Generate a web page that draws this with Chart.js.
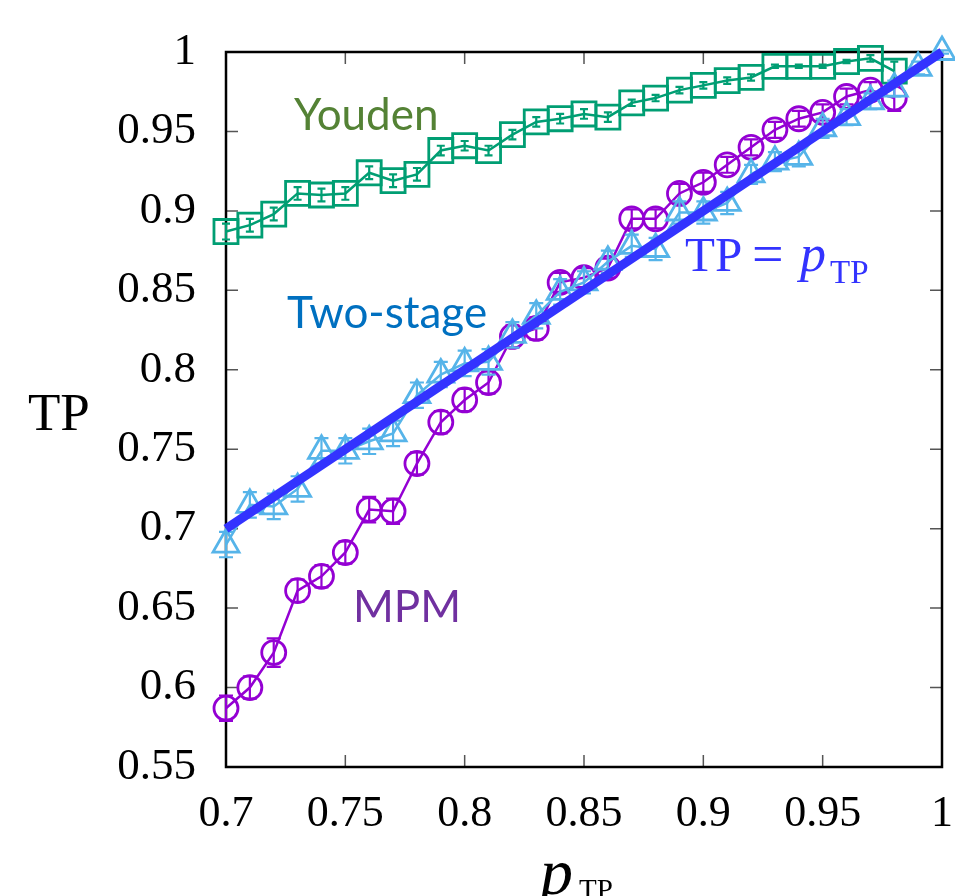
<!DOCTYPE html>
<html>
<head>
<meta charset="utf-8">
<script src="https://cdn.jsdelivr.net/npm/chart.js@4"></script>
<style>
    html, body { margin: 0; padding: 0; background: #fff; }
</style>
</head>
<body>
<canvas id="tpChart" width="955" height="896"></canvas>
<script>
// p_TP grid (x axis)
const pTP = [0.70, 0.71, 0.72, 0.73, 0.74, 0.75, 0.76, 0.77, 0.78, 0.79,
             0.80, 0.81, 0.82, 0.83, 0.84, 0.85, 0.86, 0.87, 0.88, 0.89,
             0.90, 0.91, 0.92, 0.93, 0.94, 0.95, 0.96, 0.97, 0.98, 0.99, 1.00];

// Youden (0.70 .. 0.98)
const youdenTP = [0.887, 0.891, 0.898, 0.911, 0.910, 0.911, 0.924, 0.919, 0.923, 0.938,
                  0.941, 0.938, 0.948, 0.956, 0.958, 0.961, 0.959, 0.968, 0.971, 0.976,
                  0.979, 0.982, 0.984, 0.991, 0.991, 0.991, 0.994, 0.996, 0.988];
const youdenErr = [0.005, 0.004, 0.004, 0.004, 0.004, 0.004, 0.004, 0.004, 0.004, 0.003,
                   0.003, 0.003, 0.003, 0.003, 0.003, 0.003, 0.003, 0.002, 0.002, 0.002,
                   0.002, 0.002, 0.002, 0.001, 0.001, 0.001, 0.001, 0.002, 0.006];

// Two-stage (0.70 .. 1.00)
const twoStageTP = [0.690, 0.715, 0.714, 0.725, 0.749, 0.749, 0.755, 0.760, 0.784, 0.797,
                    0.804, 0.805, 0.822, 0.834, 0.849, 0.855, 0.868, 0.878, 0.876, 0.899,
                    0.899, 0.905, 0.923, 0.931, 0.934, 0.952, 0.959, 0.969, 0.977, 0.990, 1.000];
const twoStageErr = [0.008, 0.008, 0.008, 0.008, 0.008, 0.008, 0.008, 0.008, 0.008, 0.008,
                     0.008, 0.008, 0.008, 0.008, 0.008, 0.007, 0.007, 0.007, 0.007, 0.007,
                     0.007, 0.007, 0.006, 0.006, 0.006, 0.006, 0.005, 0.005, 0.005, 0.004, 0.001];

// MPM (0.70 .. 0.98)
const mpmTP = [0.587, 0.600, 0.622, 0.661, 0.670, 0.685, 0.712, 0.711, 0.741, 0.767,
               0.781, 0.792, 0.821, 0.826, 0.855, 0.858, 0.864, 0.895, 0.895, 0.911,
               0.918, 0.929, 0.940, 0.951, 0.958, 0.962, 0.972, 0.976, 0.971];
const mpmErr = [0.008, 0.007, 0.009, 0.007, 0.007, 0.007, 0.008, 0.008, 0.007, 0.007,
                0.007, 0.007, 0.007, 0.007, 0.006, 0.006, 0.006, 0.006, 0.006, 0.006,
                0.006, 0.005, 0.005, 0.005, 0.005, 0.005, 0.005, 0.005, 0.008];

// reference line TP = p_TP
const diagX = [0.70, 1.00];
const diagY = [0.70, 1.00];

const xTicks = [0.7, 0.75, 0.8, 0.85, 0.9, 0.95, 1];
const yTicks = [0.55, 0.6, 0.65, 0.7, 0.75, 0.8, 0.85, 0.9, 0.95, 1];

const toPoints = (ys) => ys.map((y, i) => ({ x: pTP[i], y: y }));
const fmt = (v) => String(parseFloat(Number(v).toFixed(2)));

const SERIF = '"Liberation Serif", "Times New Roman", serif';
const SANS = 'Lato, "Open Sans", sans-serif';

// vertical error bars with caps, drawn in the dataset's colour
const errorBars = {
    id: 'errorBars',
    afterDatasetDraw(chart, args) {
        const ds = chart.data.datasets[args.index];
        if (!ds.errors) return;
        const ctx = chart.ctx;
        const yScale = chart.scales.y;
        ctx.save();
        ctx.strokeStyle = ds.borderColor;
        ctx.lineWidth = 2.2;
        args.meta.data.forEach((pt, i) => {
            const e = ds.errors[i];
            const v = ds.data[i].y;
            const top = yScale.getPixelForValue(v + e);
            const bot = yScale.getPixelForValue(v - e);
            const c = ds.capWidth / 2;
            ctx.beginPath();
            ctx.moveTo(pt.x, top);
            ctx.lineTo(pt.x, bot);
            ctx.moveTo(pt.x - c, top);
            ctx.lineTo(pt.x + c, top);
            ctx.moveTo(pt.x - c, bot);
            ctx.lineTo(pt.x + c, bot);
            ctx.stroke();
        });
        ctx.restore();
    }
};

// gnuplot-like frame with inward ticks on all four sides
const frame = {
    id: 'frame',
    beforeDatasetsDraw(chart) {
        const { ctx, chartArea: a, scales } = chart;
        ctx.save();
        ctx.strokeStyle = '#555';
        ctx.lineWidth = 1.5;
        ctx.beginPath();
        xTicks.forEach(v => {
            const px = scales.x.getPixelForValue(v);
            ctx.moveTo(px, a.bottom); ctx.lineTo(px, a.bottom - 12);
            ctx.moveTo(px, a.top); ctx.lineTo(px, a.top + 12);
        });
        yTicks.forEach(v => {
            const py = scales.y.getPixelForValue(v);
            ctx.moveTo(a.left, py); ctx.lineTo(a.left + 12, py);
            ctx.moveTo(a.right, py); ctx.lineTo(a.right - 12, py);
        });
        ctx.stroke();
        ctx.strokeStyle = '#000';
        ctx.lineWidth = 2.5;
        ctx.strokeRect(a.left, a.top, a.right - a.left, a.bottom - a.top);
        ctx.restore();
    }
};

// axis titles and in-plot labels
const labels = {
    id: 'labels',
    afterDraw(chart) {
        const ctx = chart.ctx;
        ctx.save();
        ctx.textBaseline = 'alphabetic';
        ctx.textAlign = 'left';

        ctx.fillStyle = '#000';
        ctx.font = '53px ' + SERIF;
        ctx.fillText('TP', 28, 430);

        ctx.font = 'italic 66px ' + SERIF;
        ctx.fillText('p', 540, 894);
        ctx.font = '29px ' + SERIF;
        ctx.fillText('TP', 579, 899);

        ctx.font = '44px ' + SANS;
        ctx.fillStyle = '#548235';
        ctx.fillText('Youden', 294, 130);
        ctx.fillStyle = '#0070C0';
        ctx.fillText('Two-stage', 287, 328);
        ctx.fillStyle = '#7030A0';
        ctx.fillText('MPM', 353, 622);

        ctx.fillStyle = '#3333ff';
        ctx.font = '49px ' + SERIF;
        ctx.fillText('TP', 685, 271);
        ctx.font = '56px ' + SERIF;
        ctx.fillText('=', 752, 273);
        ctx.font = 'italic 52px ' + SERIF;
        ctx.fillText('p', 800, 271);
        ctx.font = '33px ' + SERIF;
        ctx.fillText('TP', 830, 283);
        ctx.restore();
    }
};

const ctx = document.getElementById('tpChart').getContext('2d');
new Chart(ctx, {
    type: 'line',
    data: {
        datasets: [
            {
                label: 'TP = p_TP',
                data: diagX.map((x, i) => ({ x: x, y: diagY[i] })),
                borderColor: '#3333ff',
                borderWidth: 9,
                pointRadius: 0,
                fill: false,
                order: 0
            },
            {
                label: 'Two-stage',
                data: toPoints(twoStageTP),
                errors: twoStageErr,
                capWidth: 14,
                borderColor: '#56B4E9',
                borderWidth: 2.5,
                pointStyle: 'triangle',
                pointRadius: 15,
                pointBorderWidth: 2.8,
                pointBackgroundColor: 'rgba(0,0,0,0)',
                pointBorderColor: '#56B4E9',
                fill: false,
                order: 1
            },
            {
                label: 'MPM',
                data: toPoints(mpmTP),
                errors: mpmErr,
                capWidth: 14,
                borderColor: '#9400D3',
                borderWidth: 2.5,
                pointStyle: 'circle',
                pointRadius: 12,
                pointBorderWidth: 2.8,
                pointBackgroundColor: 'rgba(0,0,0,0)',
                pointBorderColor: '#9400D3',
                fill: false,
                order: 2
            },
            {
                label: 'Youden',
                data: toPoints(youdenTP),
                errors: youdenErr,
                capWidth: 8,
                borderColor: '#009E73',
                borderWidth: 2.5,
                pointStyle: 'rect',
                pointRadius: 17,
                pointBorderWidth: 2.8,
                pointBackgroundColor: 'rgba(0,0,0,0)',
                pointBorderColor: '#009E73',
                fill: false,
                order: 3
            }
        ]
    },
    options: {
        responsive: false,
        animation: false,
        clip: false,
        layout: { autoPadding: false, padding: { top: 52, right: 13, left: 0, bottom: 0 } },
        plugins: {
            legend: { display: false },
            tooltip: { enabled: false }
        },
        elements: { line: { tension: 0 } },
        scales: {
            x: {
                type: 'linear',
                min: 0.7,
                max: 1,
                grid: { display: false, drawTicks: false },
                border: { display: false },
                afterBuildTicks: s => { s.ticks = xTicks.map(v => ({ value: v })); },
                ticks: {
                    padding: 0,
                    color: '#000',
                    maxRotation: 0,
                    autoSkip: false,
                    font: { family: SERIF, size: 44, lineHeight: 2.15 },
                    callback: v => fmt(v)
                },
                afterFit: s => {
                    s.height = 129;
                    s.paddingLeft = 0;
                    s.paddingRight = 0;
                }
            },
            y: {
                type: 'linear',
                min: 0.55,
                max: 1,
                grid: { display: false, drawTicks: false },
                border: { display: false },
                afterBuildTicks: s => { s.ticks = yTicks.map(v => ({ value: v })); },
                ticks: {
                    padding: 30,
                    color: '#000',
                    autoSkip: false,
                    font: { family: SERIF, size: 45 },
                    callback: v => fmt(v)
                },
                afterFit: s => {
                    s.width = 226;
                    s.paddingTop = 0;
                    s.paddingBottom = 0;
                }
            }
        }
    },
    plugins: [frame, errorBars, labels]
});
</script>
</body>
</html>
